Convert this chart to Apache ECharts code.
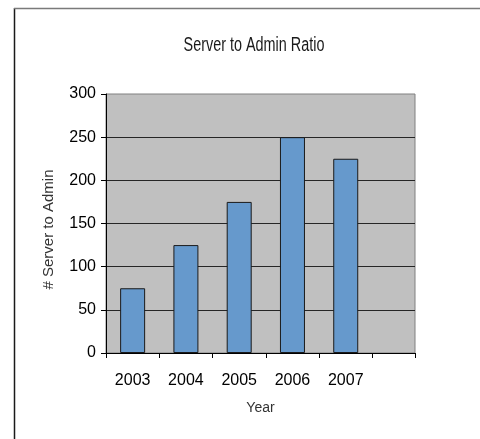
<!DOCTYPE html>
<html>
<head>
<meta charset="utf-8">
<style>
  html, body { margin: 0; padding: 0; background: #ffffff; }
  #chart { width: 480px; height: 439px; }
</style>
<script src="https://cdn.jsdelivr.net/npm/echarts@6/dist/echarts.min.js"></script>
</head>
<body>
<div id="chart"></div>
<script>
// Yearly server-to-administrator ratio
const years = ['2003', '2004', '2005', '2006', '2007'];
const ratios = [75, 125, 175, 250, 225];
const yTicks = [0, 50, 100, 150, 200, 250, 300];
const chartTitle = 'Server to Admin Ratio';

const chart = echarts.init(document.getElementById('chart'), null, { renderer: 'canvas' });

// Bars sit in the middle of each one-unit slot along the x scale
const barData = years.map((y, i) => [i + 0.5, ratios[i]]);

const option = {
  backgroundColor: '#ffffff',
  animation: false,
  graphic: [
    // outer frame: left and top edges
    { type: 'line', shape: { x1: 14.5, y1: 8, x2: 14.5, y2: 439 }, style: { stroke: '#1a1a1a', lineWidth: 1.5 }, silent: true },
    { type: 'line', shape: { x1: 14, y1: 8.5, x2: 480, y2: 8.5 }, style: { stroke: '#7a7a7a', lineWidth: 1.5 }, silent: true },
    // title, set in a narrowed face
    {
      type: 'text',
      x: 254,
      y: 45,
      scaleX: 0.72,
      scaleY: 1,
      silent: true,
      style: {
        text: chartTitle,
        fontFamily: 'Liberation Sans',
        fontSize: 20,
        fill: '#1a1a1a',
        textAlign: 'center',
        textVerticalAlign: 'middle'
      }
    }
  ],
  grid: {
    left: 106,
    top: 94,
    width: 309,
    height: 259,
    show: true,
    backgroundColor: '#c0c0c0',
    borderColor: '#808080',
    borderWidth: 1
  },
  xAxis: [
    {
      type: 'value',
      min: 0,
      max: 5.8,
      interval: 1,
      axisLine: { show: true, onZero: false, lineStyle: { color: '#000000', width: 1 } },
      axisTick: { show: true, inside: false, length: 5, lineStyle: { color: '#000000' } },
      axisLabel: { show: false },
      splitLine: { show: false }
    },
    {
      type: 'value',
      position: 'bottom',
      min: 0,
      max: 5.8,
      interval: 0.5,
      axisLine: { show: false },
      axisTick: { show: false },
      splitLine: { show: false },
      axisLabel: {
        show: true,
        margin: 20,
        fontFamily: 'Liberation Sans',
        fontSize: 16,
        color: '#000000',
        showMinLabel: false,
        showMaxLabel: false,
        formatter: function (v) {
          const k = Math.round(v * 2);
          if (k % 2 === 1) {
            const idx = (k - 1) / 2;
            return years[idx] || '';
          }
          return '';
        }
      },
      name: 'Year',
      nameLocation: 'middle',
      nameGap: 48,
      nameTextStyle: { fontFamily: 'Liberation Sans', fontSize: 14, color: '#333333' }
    }
  ],
  yAxis: {
    type: 'value',
    min: yTicks[0],
    max: yTicks[yTicks.length - 1],
    interval: 50,
    axisLine: { show: true, lineStyle: { color: '#000000', width: 1 } },
    axisTick: { show: true, length: 5, lineStyle: { color: '#000000' } },
    axisLabel: {
      fontFamily: 'Liberation Sans',
      fontSize: 16,
      color: '#000000',
      margin: 10
    },
    splitLine: { show: true, showMaxLine: false, lineStyle: { color: '#262626', width: 1 } },
    name: '# Server to Admin',
    nameLocation: 'middle',
    nameGap: 50,
    nameRotate: 90,
    nameTextStyle: { fontFamily: 'Liberation Sans', fontSize: 15, color: '#333333', padding: [0, 12, 0, 0] }
  },
  series: [
    {
      type: 'bar',
      xAxisIndex: 0,
      data: barData,
      barWidth: 25,
      itemStyle: {
        color: '#6699cc',
        borderColor: '#1a1a1a',
        borderWidth: 1
      }
    }
  ]
};

chart.setOption(option);
</script>
</body>
</html>
